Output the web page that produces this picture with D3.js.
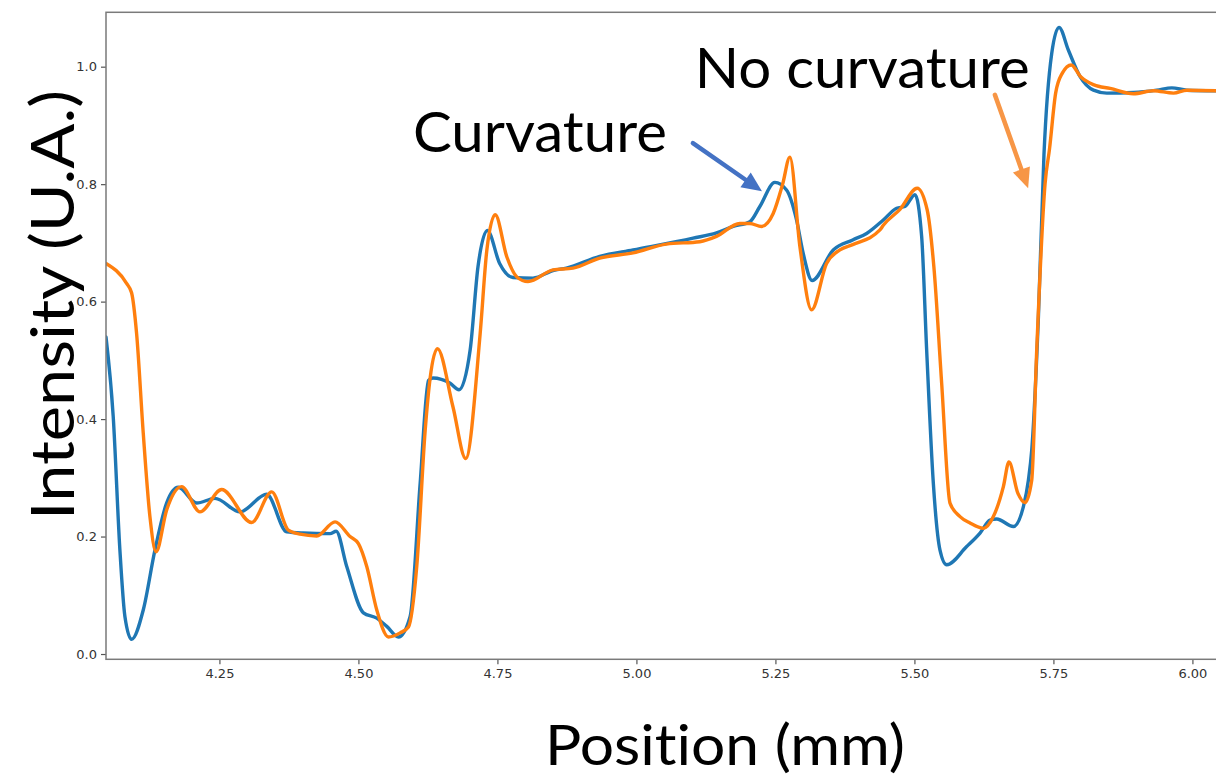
<!DOCTYPE html>
<html>
<head>
<meta charset="utf-8">
<script src="https://cdn.jsdelivr.net/npm/d3@7"></script>
<style>
  html, body { margin: 0; padding: 0; background: #fff; }
  svg { display: block; }
  text { font-variant-ligatures: none; font-feature-settings: "liga" 0, "clig" 0; }
</style>
</head>
<body>
<svg id="chart" width="1216" height="777"></svg>
<script>
// Intensity profiles across position (mm) for the two acquisition modes
const curvatureX = [4.046, 4.059, 4.071, 4.080, 4.092, 4.113, 4.134, 4.155, 4.176, 4.209, 4.242, 4.287, 4.335, 4.371,
  4.400, 4.449, 4.460, 4.479, 4.509, 4.533, 4.551, 4.572, 4.593, 4.611, 4.626, 4.634, 4.665, 4.681, 4.701, 4.715,
  4.732, 4.754, 4.778, 4.814, 4.850, 4.874, 4.934, 4.994, 5.102, 5.144, 5.174, 5.204, 5.222, 5.249, 5.270, 5.288,
  5.300, 5.316, 5.354, 5.389, 5.414, 5.444, 5.468, 5.483, 5.501, 5.513, 5.522, 5.534, 5.546, 5.558, 5.594, 5.618,
  5.636, 5.648, 5.678, 5.696, 5.705, 5.711, 5.723, 5.733, 5.747, 5.760, 5.777, 5.798, 5.822, 5.846, 5.894, 5.936,
  5.963, 5.990, 6.042];
const curvatureY = [0.540, 0.404, 0.177, 0.064, 0.025, 0.075, 0.177, 0.257, 0.284, 0.257, 0.265, 0.242, 0.272, 0.208,
  0.206, 0.205, 0.209, 0.149, 0.070, 0.061, 0.047, 0.029, 0.064, 0.290, 0.466, 0.470, 0.461, 0.450, 0.518, 0.659,
  0.721, 0.665, 0.641, 0.640, 0.653, 0.657, 0.677, 0.688, 0.708, 0.717, 0.728, 0.736, 0.762, 0.803, 0.790, 0.739,
  0.682, 0.636, 0.688, 0.705, 0.716, 0.739, 0.759, 0.762, 0.782, 0.711, 0.518, 0.291, 0.177, 0.152, 0.183, 0.206,
  0.228, 0.230, 0.217, 0.251, 0.296, 0.347, 0.574, 0.850, 1.023, 1.067, 1.028, 0.983, 0.960, 0.955, 0.956, 0.960,
  0.964, 0.960, 0.959];

const noCurvatureX = [4.046, 4.083, 4.092, 4.101, 4.113, 4.125, 4.136, 4.155, 4.182, 4.215, 4.254, 4.308, 4.344, 4.374,
  4.395, 4.425, 4.458, 4.485, 4.500, 4.515, 4.533, 4.554, 4.575, 4.590, 4.605, 4.620, 4.629, 4.642, 4.670, 4.693,
  4.719, 4.731, 4.746, 4.767, 4.785, 4.805, 4.850, 4.886, 4.934, 4.994, 5.054, 5.114, 5.144, 5.186, 5.204, 5.225,
  5.246, 5.263, 5.276, 5.294, 5.315, 5.342, 5.366, 5.389, 5.438, 5.444, 5.474, 5.505, 5.523, 5.535, 5.549, 5.564,
  5.582, 5.600, 5.624, 5.642, 5.660, 5.670, 5.686, 5.699, 5.711, 5.720, 5.735, 5.743, 5.754, 5.766, 5.782, 5.799,
  5.823, 5.852, 5.894, 5.930, 5.966, 5.990, 6.042];
const noCurvatureY = [0.665, 0.631, 0.615, 0.546, 0.376, 0.234, 0.174, 0.245, 0.285, 0.242, 0.280, 0.224, 0.276, 0.211,
  0.204, 0.201, 0.225, 0.200, 0.188, 0.149, 0.075, 0.029, 0.036, 0.046, 0.150, 0.380, 0.470, 0.520, 0.421, 0.333,
  0.546, 0.688, 0.748, 0.676, 0.642, 0.634, 0.654, 0.657, 0.674, 0.683, 0.698, 0.702, 0.711, 0.733, 0.733, 0.728,
  0.750, 0.800, 0.846, 0.694, 0.586, 0.665, 0.688, 0.697, 0.722, 0.730, 0.757, 0.793, 0.756, 0.659, 0.461, 0.257,
  0.234, 0.223, 0.214, 0.234, 0.285, 0.327, 0.274, 0.258, 0.296, 0.518, 0.801, 0.860, 0.955, 0.989, 1.003, 0.983,
  0.969, 0.963, 0.954, 0.959, 0.955, 0.960, 0.959];

const xTicks = [4.25, 4.50, 4.75, 5.00, 5.25, 5.50, 5.75, 6.00];
const yTicks = [0.0, 0.2, 0.4, 0.6, 0.8, 1.0];

const seriesNames = ["Curvature", "No curvature"];
const seriesColors = ["#1f77b4", "#ff7f0e"];

const svg = d3.select("#chart");
const plot = { left: 106, top: 12.3, right: 1230, bottom: 659.3 };

const x = d3.scaleLinear().domain([4.046, 6.0676]).range([plot.left, plot.right]);
const y = d3.scaleLinear().domain([-0.009, 1.0926]).range([plot.bottom, plot.top]);

// clip region for the traces
svg.append("defs").append("clipPath").attr("id", "plotClip")
  .append("rect")
  .attr("x", plot.left).attr("y", plot.top)
  .attr("width", plot.right - plot.left).attr("height", plot.bottom - plot.top);

// axes
const xAxis = d3.axisBottom(x).tickValues(xTicks).tickFormat(d3.format(".2f")).tickSize(5).tickSizeOuter(0).tickPadding(4);
const yAxis = d3.axisLeft(y).tickValues(yTicks).tickFormat(d3.format(".1f")).tickSize(5).tickSizeOuter(0).tickPadding(4);

const gx = svg.append("g").attr("transform", `translate(0,${plot.bottom})`).call(xAxis);
const gy = svg.append("g").attr("transform", `translate(${plot.left},0)`).call(yAxis);
[gx, gy].forEach(g => {
  g.select(".domain").remove();
  g.selectAll(".tick line").attr("stroke", "#555").attr("stroke-width", 1.2);
  g.selectAll(".tick text")
    .attr("fill", "#333")
    .style("font-family", "'DejaVu Sans', sans-serif")
    .style("font-size", "13px");
});

// traces
const line = d3.line().x(d => x(d[0])).y(d => y(d[1])).curve(d3.curveMonotoneX);
const traces = [
  d3.zip(curvatureX, curvatureY),
  d3.zip(noCurvatureX, noCurvatureY)
];
const traceG = svg.append("g").attr("clip-path", "url(#plotClip)");
traces.forEach((pts, i) => {
  traceG.append("path")
    .datum(pts)
    .attr("d", line)
    .attr("fill", "none")
    .attr("stroke", seriesColors[i])
    .attr("stroke-width", 3.4)
    .attr("stroke-linejoin", "round")
    .attr("stroke-linecap", "round");
});

// frame
svg.append("rect")
  .attr("x", plot.left).attr("y", plot.top)
  .attr("width", plot.right - plot.left).attr("height", plot.bottom - plot.top)
  .attr("fill", "none").attr("stroke", "#7a7a7a").attr("stroke-width", 1.5);

// axis titles
const titleFont = "Lato, 'Open Sans', sans-serif";
svg.append("text")
  .attr("x", 725).attr("y", 765)
  .attr("text-anchor", "middle")
  .attr("textLength", 360).attr("lengthAdjust", "spacingAndGlyphs")
  .style("font-family", titleFont).style("font-size", "56px").attr("fill", "#000")
  .text("Position (mm)");

svg.append("text")
  .attr("transform", "translate(74,305) rotate(-90)")
  .attr("text-anchor", "middle")
  .attr("textLength", 430).attr("lengthAdjust", "spacingAndGlyphs")
  .style("font-family", titleFont).style("font-size", "60px").attr("fill", "#000")
  .text("Intensity (U.A.)");

// annotations, positioned in data units
const labels = [
  { text: seriesNames[0], x: 4.598, y: 0.855, width: 254 },
  { text: seriesNames[1], x: 5.105, y: 0.964, width: 335 }
];
labels.forEach(l => {
  svg.append("text")
    .attr("x", x(l.x)).attr("y", y(l.y))
    .attr("textLength", l.width).attr("lengthAdjust", "spacingAndGlyphs")
    .style("font-family", titleFont).style("font-size", "56px").attr("fill", "#000")
    .text(l.text);
});

const arrows = [
  { from: [5.1016, 0.870], to: [5.2258, 0.788], color: "#4472c4" },
  { from: [5.6448, 0.952], to: [5.7045, 0.793], color: "#f79646" }
];
arrows.forEach(a => {
  const x0 = x(a.from[0]), y0 = y(a.from[1]);
  const x1 = x(a.to[0]), y1 = y(a.to[1]);
  const ang = Math.atan2(y1 - y0, x1 - x0);
  const headLen = 20, headHalf = 9;
  const bx = x1 - headLen * Math.cos(ang), by = y1 - headLen * Math.sin(ang);
  svg.append("line")
    .attr("x1", x0).attr("y1", y0).attr("x2", bx).attr("y2", by)
    .attr("stroke", a.color).attr("stroke-width", 4.5).attr("stroke-linecap", "round");
  const px = -Math.sin(ang), py = Math.cos(ang);
  svg.append("path")
    .attr("d", `M${x1},${y1}L${bx + headHalf * px},${by + headHalf * py}L${bx - headHalf * px},${by - headHalf * py}Z`)
    .attr("fill", a.color);
});
</script>
</body>
</html>
